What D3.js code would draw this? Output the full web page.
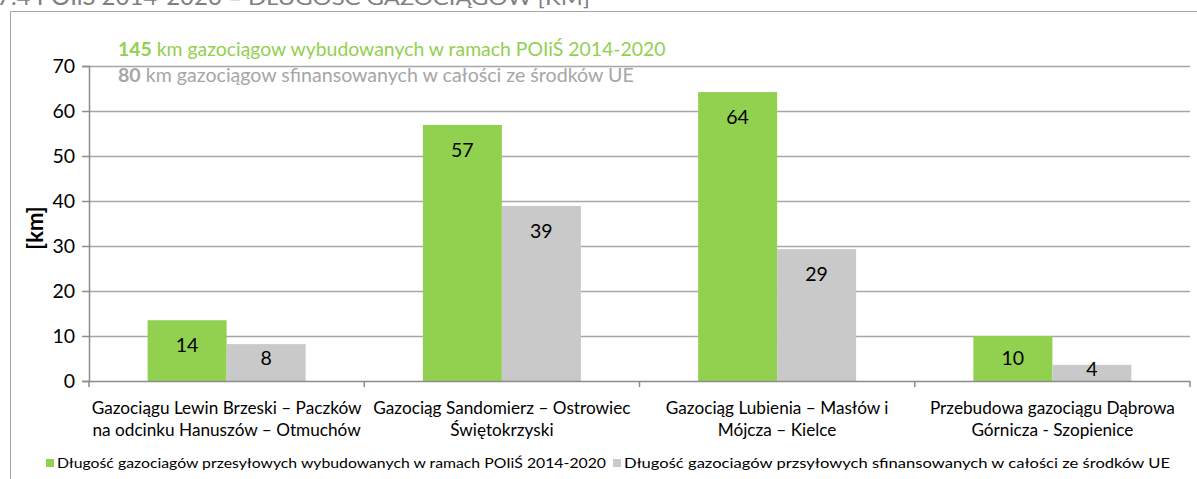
<!DOCTYPE html>
<html><head><meta charset="utf-8">
<script src="https://cdn.jsdelivr.net/npm/d3@7"></script>
<style>
html,body{margin:0;padding:0;background:#fff;overflow:hidden}
svg{display:block;font-family:Lato,"Open Sans",sans-serif}
</style></head><body>
<svg id="c" width="1197" height="479"></svg>
<script>
const categories = [
  ["Gazociągu Lewin Brzeski – Paczków", "na odcinku Hanuszów – Otmuchów"],
  ["Gazociąg Sandomierz – Ostrowiec", "Świętokrzyski"],
  ["Gazociąg Lubienia – Masłów i", "Mójcza – Kielce"],
  ["Przebudowa gazociągu Dąbrowa", "Górnicza - Szopienice"]
];
const seriesNames = [
  "Długość gazociagów przesyłowych wybudowanych w ramach POIiŚ 2014-2020",
  "Długość gazociagów przsyłowych sfinansowanych w całości ze środków UE"
];
const builtValues = [13.5, 56.9, 64.2, 10.0];
const fundedValues = [8.2, 38.9, 29.3, 3.6];
const yTicks = [0, 10, 20, 30, 40, 50, 60, 70];
const colors = ["#92d050", "#c9c9c9"];

const svg = d3.select("#c");
const pLeft = 89, pRight = 1190, pTop = 66, pBottom = 381;

// frame
svg.append("path").attr("d", "M10.5,479 V11.5 H1197").attr("fill","none").attr("stroke","#a6a6a6").attr("stroke-width",1);

// cut-off title
const t = svg.append("text").attr("x", -3).attr("y", 5).attr("fill", "#808080");
t.append("tspan").attr("font-size", 24).text("7.4 POIiŚ 2014-2020 ");
t.append("tspan").attr("font-size", 20).attr("textLength", 362).attr("lengthAdjust", "spacingAndGlyphs")
  .text("– DŁUGOŚĆ GAZOCIĄGÓW [KM]");

const y = d3.scaleLinear().domain([0, 70]).range([pBottom, pTop]);
const x0 = d3.scaleBand().domain(d3.range(categories.length)).range([pLeft, pRight]).padding(0);
const x1 = d3.scaleBand().domain([0, 1]).range([0, x0.bandwidth()]).paddingInner(0).paddingOuter(0.742);

// gridlines
svg.append("g").selectAll("line").data(yTicks.filter(d => d > 0)).join("line")
  .attr("x1", pLeft).attr("x2", pRight)
  .attr("y1", d => Math.round(y(d)) + 0.5).attr("y2", d => Math.round(y(d)) + 0.5)
  .attr("stroke", "#a6a6a6").attr("stroke-width", 1.5);

// y axis
const yAxis = svg.append("g").attr("transform", `translate(${pLeft},0)`)
  .call(d3.axisLeft(y).tickValues(yTicks).tickSize(7).tickPadding(7));
yAxis.select(".domain").attr("stroke", "#8c8c8c").attr("stroke-width", 1.5);
yAxis.selectAll(".tick line").attr("stroke", "#8c8c8c").attr("stroke-width", 1.5);
yAxis.selectAll(".tick text").attr("font-size", 19.5).attr("font-family", "Lato").attr("fill", "#000");

// bars
const data = categories.map((c, i) => [builtValues[i], fundedValues[i]]);
const groups = svg.append("g").selectAll("g").data(data).join("g")
  .attr("transform", (d, i) => `translate(${x0(i)},0)`);
groups.selectAll("rect").data(d => d.map((v, j) => ({v, j}))).join("rect")
  .attr("x", d => x1(d.j)).attr("width", x1.bandwidth())
  .attr("y", d => y(d.v)).attr("height", d => y(0) - y(d.v))
  .attr("fill", d => colors[d.j]);
groups.selectAll("text").data(d => d.map((v, j) => ({v, j}))).join("text")
  .attr("x", d => x1(d.j) + x1.bandwidth() / 2)
  .attr("y", d => { const h = y(0) - y(d.v); return y(d.v) + Math.min(25, Math.max(h * 0.25, h - 23)); })
  .attr("dy", "0.36em").attr("text-anchor", "middle").attr("font-size", 19.5).attr("fill", "#000")
  .text(d => d.v.toFixed(0));

// x axis
const xa = svg.append("g");
xa.append("line").attr("x1", pLeft).attr("x2", pRight).attr("y1", pBottom + 0.5).attr("y2", pBottom + 0.5)
  .attr("stroke", "#8c8c8c").attr("stroke-width", 1.5);
xa.selectAll(".sep").data(d3.range(categories.length + 1)).join("line")
  .attr("x1", i => pLeft + i * x0.step()).attr("x2", i => pLeft + i * x0.step())
  .attr("y1", pBottom).attr("y2", pBottom + 6).attr("stroke", "#8c8c8c").attr("stroke-width", 1.5);
xa.selectAll(".cat").data(categories).join("text")
  .attr("text-anchor", "middle").attr("font-size", 17.2).attr("fill", "#000")
  .each(function(c, i) {
    d3.select(this).selectAll("tspan").data(c).join("tspan")
      .attr("x", x0(i) + x0.bandwidth() / 2)
      .attr("y", (d, k) => 414 + k * 22).text(d => d);
  });

// y label
svg.append("text").attr("transform", "translate(43,228) rotate(-90)")
  .attr("text-anchor", "middle").attr("font-size", 22).attr("font-weight", "bold").attr("fill", "#000")
  .text("[km]");

// annotations
const a1 = svg.append("text").attr("x", 118).attr("y", 56).attr("font-size", 19.4).attr("fill", "#92d050");
a1.append("tspan").attr("font-weight", "bold").text("145");
a1.append("tspan").text(" km gazociągow wybudowanych w ramach POIiŚ 2014-2020");
const a2 = svg.append("text").attr("x", 118).attr("y", 82).attr("font-size", 19.6).attr("fill", "#a6a6a6");
a2.append("tspan").attr("font-weight", "bold").text("80");
a2.append("tspan").text(" km gazociągow sfinansowanych w całości ze środków UE");

// legend
const legX = [46, 613], legEnd = [606, 1170];
const lg = svg.append("g").selectAll("g").data(seriesNames).join("g");
lg.append("rect").attr("x", (d, i) => legX[i]).attr("y", 459).attr("width", 8).attr("height", 8)
  .attr("fill", (d, i) => colors[i]);
lg.append("text").attr("x", (d, i) => legX[i] + 11).attr("y", 468).attr("font-size", 14).attr("fill", "#000")
  .attr("textLength", (d, i) => legEnd[i] - legX[i] - 11).attr("lengthAdjust", "spacingAndGlyphs")
  .text(d => d);
</script>
</body></html>
